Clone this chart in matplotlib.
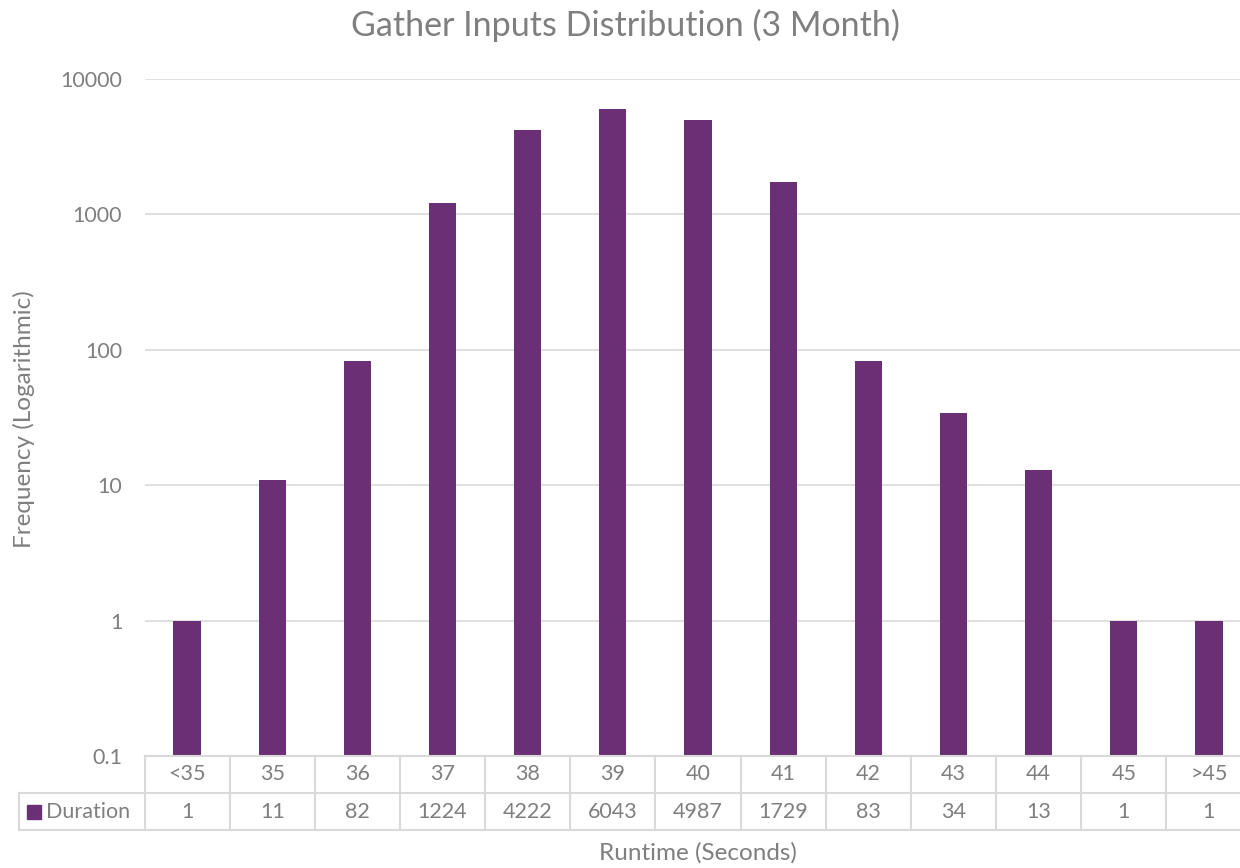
import numpy as np
import matplotlib
matplotlib.use("Agg")
import matplotlib.pyplot as plt
from matplotlib.lines import Line2D
from matplotlib.patches import Rectangle

categories = ["<35", "35", "36", "37", "38", "39", "40", "41", "42", "43", "44", "45", ">45"]
duration = [1, 11, 82, 1224, 4222, 6043, 4987, 1729, 83, 34, 13, 1, 1]
yticks = [0.1, 1, 10, 100, 1000, 10000]
ytick_labels = ["0.1", "1", "10", "100", "1000", "10000"]

BAR = "#6B2F76"
TXT = "#7F7F7F"
GRID = "#D9D9D9"
FS = 15.5

plt.rcParams['font.family'] = ['Lato', 'DejaVu Sans']

W, H = 1240, 868
fig = plt.figure(figsize=(W / 100, H / 100), dpi=100)

def fx(px):
    return px / W

def fy(py):
    return 1 - py / H

left, right, top, bottom = 144.5, 1251.5, 79, 756
ax = fig.add_axes([fx(left), fy(bottom), fx(right - left), (bottom - top) / H])

x = np.arange(len(categories))
ax.bar(x, duration, width=0.32, color=BAR, zorder=3)
ax.set_yscale("log")
ax.set_ylim(0.1, 10000)
ax.set_xlim(-0.5, len(categories) - 0.5)
ax.set_yticks(yticks)
ax.set_yticklabels(ytick_labels)
ax.yaxis.set_minor_locator(matplotlib.ticker.NullLocator())
ax.set_xticks([])
ax.tick_params(axis="y", length=0, pad=16, labelsize=FS, labelcolor=TXT)
ax.grid(axis="y", color=GRID, linewidth=1.2, zorder=0)
for s in ax.spines.values():
    s.set_visible(False)

# data table under the plot
row1, row2, row3 = 756, 793, 830
cell = (right - left) / len(categories)
lw = 1.5
fig.add_artist(Line2D([fx(left), fx(right)], [fy(row1), fy(row1)], color=GRID, lw=lw))
for r in (row2, row3):
    fig.add_artist(Line2D([fx(19), fx(right)], [fy(r), fy(r)], color=GRID, lw=lw))
fig.add_artist(Line2D([fx(19), fx(19)], [fy(row2), fy(row3)], color=GRID, lw=lw))
for i in range(len(categories) + 1):
    xp = left + i * cell
    fig.add_artist(Line2D([fx(xp), fx(xp)], [fy(row1), fy(row3)], color=GRID, lw=lw))

for i, (c, v) in enumerate(zip(categories, duration)):
    xc = left + (i + 0.5) * cell
    fig.text(fx(xc), fy((row1 + row2) / 2), c, ha="center", va="center", fontsize=FS, color=TXT)
    fig.text(fx(xc), fy((row2 + row3) / 2), str(v), ha="center", va="center", fontsize=FS, color=TXT)

fig.add_artist(Rectangle((fx(27), fy(819)), fx(14), 14 / H, color=BAR))
fig.text(fx(46), fy((row2 + row3) / 2), "Duration", ha="left", va="center", fontsize=FS, color=TXT)

fig.text(fx(698), fy(853), "Runtime (Seconds)", ha="center", va="center", fontsize=17.5, color=TXT)
fig.text(fx(24), fy(419), "Frequency (Logarithmic)", ha="center", va="center", rotation=90, fontsize=17.5, color=TXT)
fig.text(fx(625), fy(25), "Gather Inputs Distribution (3 Month)", ha="center", va="center", fontsize=24.5, color=TXT)

fig.savefig("out.png", dpi=100)
